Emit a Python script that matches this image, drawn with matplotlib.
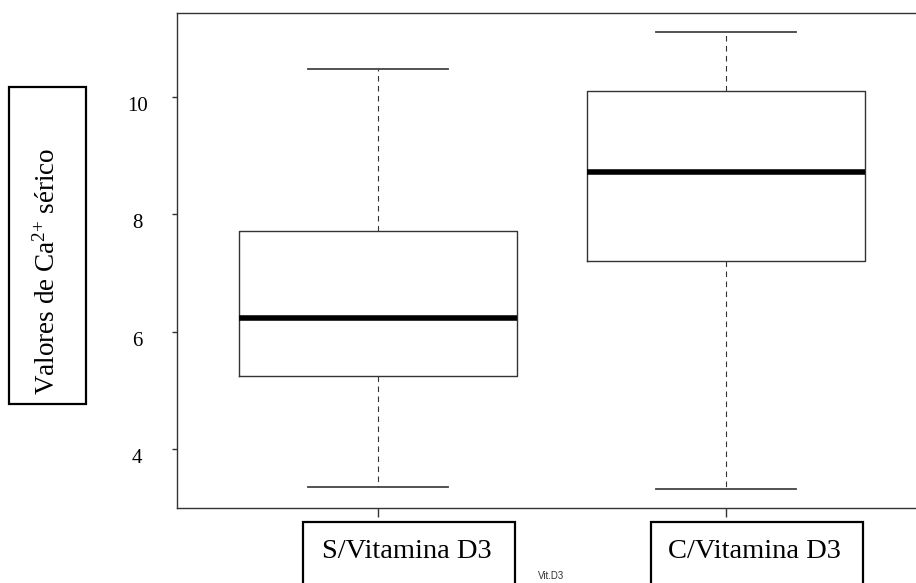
import matplotlib.pyplot as plt
import matplotlib.transforms as mtransforms
from matplotlib.patches import Rectangle

plt.rcParams['font.family'] = ['Liberation Serif', 'DejaVu Serif']
plt.rcParams['mathtext.fontset'] = 'custom'
plt.rcParams['mathtext.rm'] = 'Liberation Serif'
plt.rcParams['mathtext.it'] = 'Liberation Serif:italic'

# Summary of serum calcium per group (box plot statistics)
groups = ['S/Vitamina D3', 'C/Vitamina D3']
lower_whisker = [3.35, 3.32]
first_quartile = [5.24, 7.20]
medians = [6.23, 8.72]
third_quartile = [7.72, 10.10]
upper_whisker = [10.48, 11.11]
y_ticks = [4, 6, 8, 10]

stats = []
for i, name in enumerate(groups):
    stats.append({'label': name, 'whislo': lower_whisker[i], 'q1': first_quartile[i],
                  'med': medians[i], 'q3': third_quartile[i],
                  'whishi': upper_whisker[i], 'fliers': []})
positions = list(range(1, len(groups) + 1))

fig = plt.figure(figsize=(9.16, 5.83), dpi=100)
ax = fig.add_axes([177 / 916, 1 - 508 / 583, 1 - 177 / 916, (508 - 12.5) / 583])

ax.bxp(stats, positions=positions, widths=0.8, capwidths=0.4, showfliers=False,
       boxprops=dict(color='#333333', linewidth=1.0),
       medianprops=dict(color='black', linewidth=4.0, solid_capstyle='butt'),
       whiskerprops=dict(color='#333333', linewidth=0.8, linestyle=(0, (5, 4))),
       capprops=dict(color='#444444', linewidth=1.3))

ax.set_xlim(0.4224, 2.546)
ax.set_ylim(3.0, 11.44)

for side in ['left', 'bottom', 'top']:
    ax.spines[side].set_color('#333333')
    ax.spines[side].set_linewidth(1.0)
ax.spines['right'].set_visible(False)

# y ticks: horizontal labels, centred and nudged below each tick
ax.set_yticks(y_ticks, [str(v) for v in y_ticks])
ax.tick_params(axis='y', length=3.6, width=1.0, color='#333333', pad=25, labelsize=15)
shift = mtransforms.ScaledTranslation(0, -0.07, fig.dpi_scale_trans)
for lab in ax.get_yticklabels():
    lab.set_horizontalalignment('center')
    lab.set_transform(lab.get_transform() + shift)

# x ticks drawn without labels; group names go in framed boxes below
ax.set_xticks(positions, ['' for _ in positions])
ax.tick_params(axis='x', length=6.5, width=1.0, color='#333333')

blend = mtransforms.blended_transform_factory(ax.transData, fig.transFigure)
for pos, name in zip(positions, groups):
    ax.text(pos + 0.083, 1 - 558 / 583, name, transform=blend, ha='center',
            va='baseline', fontsize=20.5, clip_on=False)
    ax.add_patch(Rectangle((pos - 0.215, -0.05), 0.61, 0.05 + (1 - 522 / 583),
                           transform=blend, fill=False, edgecolor='black',
                           linewidth=1.6, clip_on=False))

fig.text(551 / 916, 1 - 576 / 583, 'Vit.D3', fontsize=7, family='Liberation Sans',
         color='#333333', ha='center', va='center')

# framed y-axis title
fig.patches.append(Rectangle((9 / 916, 1 - 404 / 583), 77 / 916, 317 / 583,
                             transform=fig.transFigure, fill=False,
                             edgecolor='black', linewidth=1.6))
fig.text(47 / 916, 1 - 271 / 583, r'Valores de Ca$^{2\text{+}}$ sérico', rotation=90,
         fontsize=19.5, ha='center', va='center')

fig.savefig('out.png', dpi=100)
